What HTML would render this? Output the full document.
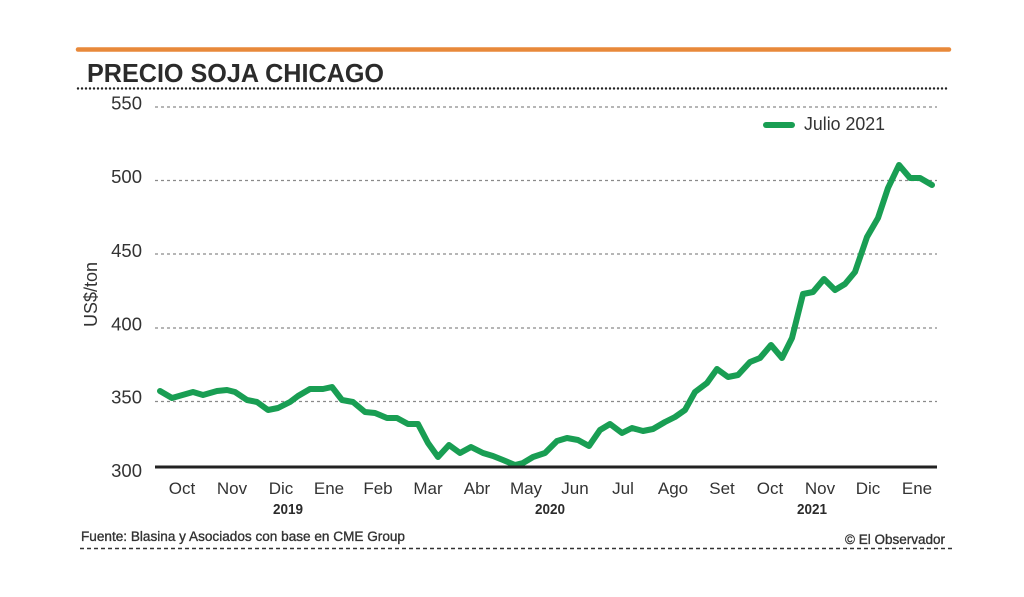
<!DOCTYPE html>
<html>
<head>
<meta charset="utf-8">
<style>
  html,body{margin:0;padding:0;background:#fff;}
  svg{display:block;}
  text{font-family:"Liberation Sans", sans-serif;}
</style>
</head>
<body>
<svg width="1024" height="597" viewBox="0 0 1024 597" xmlns="http://www.w3.org/2000/svg">
  <rect width="1024" height="597" fill="#fff"/>
  <!-- orange top bar -->
  <line x1="78" y1="49.5" x2="949" y2="49.5" stroke="#e8893a" stroke-width="4.5" stroke-linecap="round"/>
  <!-- title -->
  <text x="87" y="82" font-size="26" font-weight="bold" fill="#2b2b2b" textLength="297" lengthAdjust="spacingAndGlyphs">PRECIO SOJA CHICAGO</text>
  <!-- dotted line under title -->
  <line x1="78" y1="88.5" x2="947" y2="88.5" stroke="#222" stroke-width="2.4" stroke-dasharray="0 4" stroke-linecap="round"/>

  <!-- gridlines -->
  <g stroke="#8a8a8a" stroke-width="1.3" stroke-dasharray="3 3">
    <line x1="155" y1="107" x2="937" y2="107"/>
    <line x1="155" y1="180.5" x2="937" y2="180.5"/>
    <line x1="155" y1="254" x2="937" y2="254"/>
    <line x1="155" y1="328" x2="937" y2="328"/>
    <line x1="155" y1="401.5" x2="937" y2="401.5"/>
  </g>

  <!-- y labels -->
  <g font-size="18.5" fill="#333" text-anchor="end">
    <text x="142" y="109.5">550</text>
    <text x="142" y="183">500</text>
    <text x="142" y="257">450</text>
    <text x="142" y="330.5">400</text>
    <text x="142" y="403.5">350</text>
    <text x="142" y="477">300</text>
  </g>
  <!-- y axis title -->
  <text transform="translate(97,294.5) rotate(-90)" font-size="18" fill="#333" text-anchor="middle">US$/ton</text>

  <!-- series -->
  <polyline fill="none" stroke="#199e53" stroke-width="6" stroke-linejoin="round" stroke-linecap="round"
    points="160,391 172,398 193,392 203,395 217,391 227,390 235,392 247,400 257,402 268,410 278,408 290,402 298,396 310,389 323,389 332,387 342,400 353,402 365,412 375,413 387,418 397,418 408,424 418,424 428,443 438,457 449,445 460,453 471,447 483,453 493,456 503,460 515,465 523,463 533,457 545,453 557,441 567,438 578,440 589,446 600,430 610,424 622,433 632,428 643,431 653,429 665,422 675,417 685,410 695,392 707,383 717,369 728,377 738,375 750,362 760,358 771,345 782,358 792,338 803,294 813,292 824,279 835,290 845,284 855,272 867,237 878,218 888,188 899,165 910,178 920,178 932,185"/>

  <!-- axis line -->
  <line x1="155" y1="467" x2="937" y2="467" stroke="#222" stroke-width="3"/>

  <!-- x labels -->
  <g font-size="17" fill="#333" text-anchor="middle">
    <text x="182" y="494">Oct</text>
    <text x="232" y="494">Nov</text>
    <text x="281" y="494">Dic</text>
    <text x="329" y="494">Ene</text>
    <text x="378" y="494">Feb</text>
    <text x="428" y="494">Mar</text>
    <text x="477" y="494">Abr</text>
    <text x="526" y="494">May</text>
    <text x="575" y="494">Jun</text>
    <text x="623" y="494">Jul</text>
    <text x="673" y="494">Ago</text>
    <text x="722" y="494">Set</text>
    <text x="770" y="494">Oct</text>
    <text x="820" y="494">Nov</text>
    <text x="868" y="494">Dic</text>
    <text x="917" y="494">Ene</text>
  </g>
  <!-- years -->
  <g font-size="15" font-weight="bold" fill="#2b2b2b">
    <text x="273" y="514" textLength="30" lengthAdjust="spacingAndGlyphs">2019</text>
    <text x="535" y="514" textLength="30" lengthAdjust="spacingAndGlyphs">2020</text>
    <text x="797" y="514" textLength="30" lengthAdjust="spacingAndGlyphs">2021</text>
  </g>

  <!-- legend -->
  <line x1="766" y1="125" x2="792" y2="125" stroke="#199e53" stroke-width="6" stroke-linecap="round"/>
  <text x="804" y="130" font-size="18" fill="#333" textLength="81" lengthAdjust="spacingAndGlyphs">Julio 2021</text>

  <!-- footer -->
  <text x="81" y="541" font-size="13.5" fill="#333" stroke="#333" stroke-width="0.35" textLength="324" lengthAdjust="spacingAndGlyphs">Fuente: Blasina y Asociados con base en CME Group</text>
  <text x="845" y="544" font-size="13.5" fill="#333" stroke="#333" stroke-width="0.35" textLength="100" lengthAdjust="spacingAndGlyphs">© El Observador</text>
  <line x1="80" y1="548.5" x2="952" y2="548.5" stroke="#333" stroke-width="1.4" stroke-dasharray="4 3"/>
</svg>
</body>
</html>
